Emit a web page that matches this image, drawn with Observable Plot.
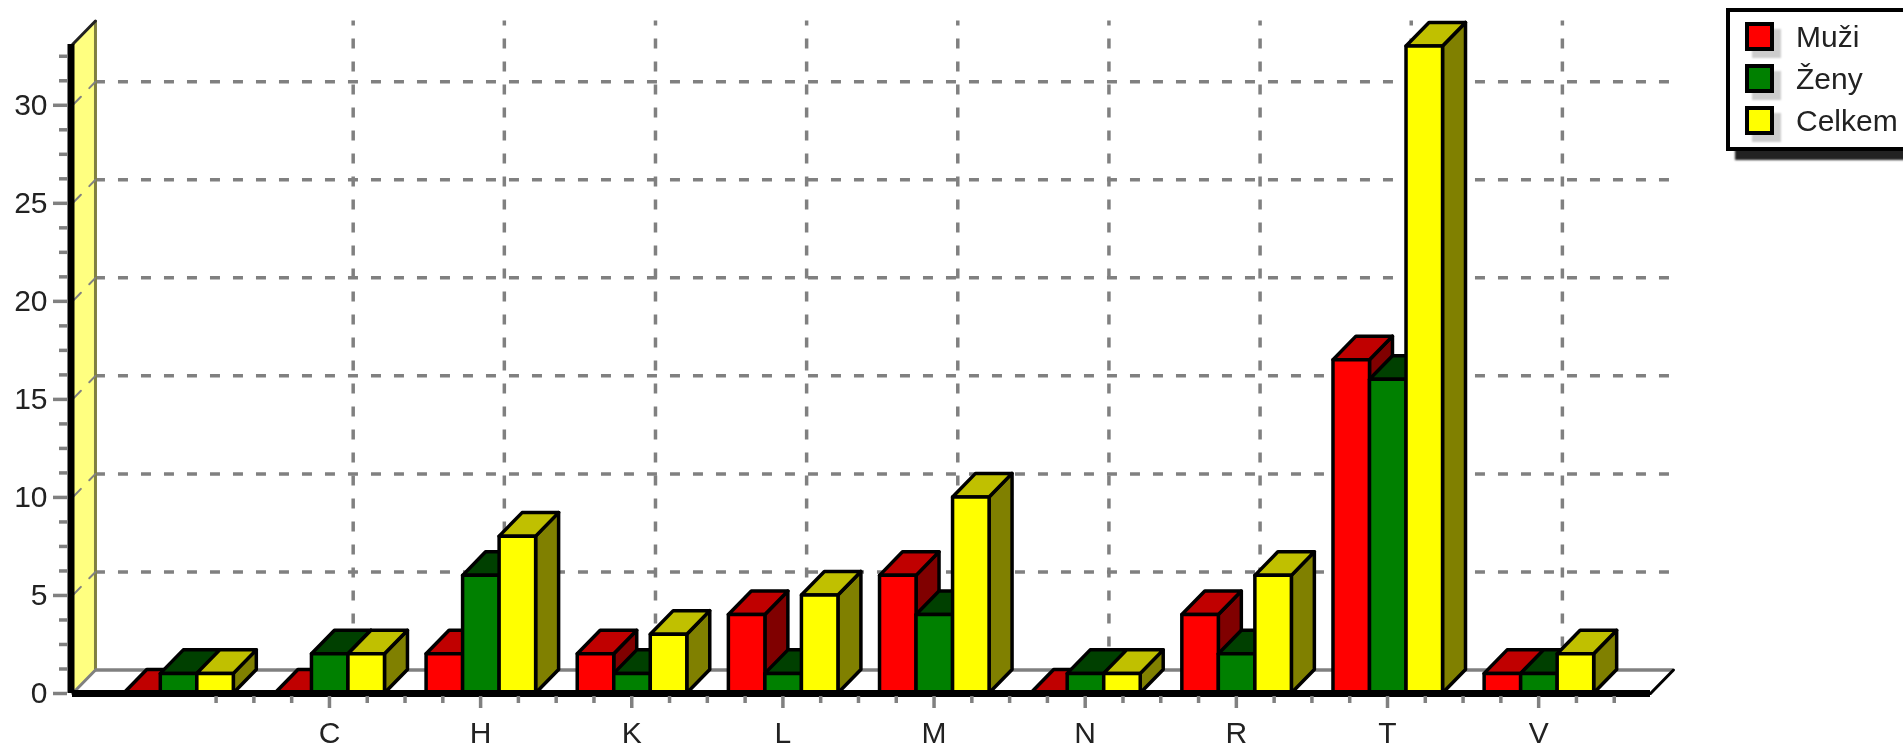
<!DOCTYPE html>
<html><head><meta charset="utf-8">
<script src="https://cdn.jsdelivr.net/npm/d3@7"></script>
<script src="https://cdn.jsdelivr.net/npm/@observablehq/plot@0.6"></script>
<style>
html,body{margin:0;padding:0;background:#fff;overflow:hidden;width:1903px;height:746px}
#chart{position:absolute;left:0;top:0;filter:blur(0.5px)}
#legend{position:absolute;left:1726px;top:8px;width:220px;height:135px;background:#fff;border:4px solid #000;box-shadow:9px 9px 2px #222;font:30px "Liberation Sans",Arial,sans-serif;color:#222;filter:blur(0.5px)}
.row{position:absolute;left:66px;line-height:34px;white-space:nowrap}
.sw{position:absolute;left:15px;width:21px;height:21px;border:4px solid #000;box-shadow:7px 7px 2px #ccc}
</style></head><body>
<div id="chart"></div><div id="legend"></div>
<script>
const categories = ["", "C", "H", "K", "L", "M", "N", "R", "T", "V"];
const muzi   = [0, 0, 2, 2, 4, 6, 0, 4, 17, 1];
const zeny   = [1, 2, 6, 1, 1, 4, 1, 2, 16, 1];
const celkem = [1, 2, 8, 3, 5, 10, 1, 6, 33, 2];
const seriesNames = ["Muži", "Ženy", "Celkem"];
const frontColors = ["#ff0000", "#008000", "#ffff00"];
const topColors   = ["#c00000", "#004000", "#c0c000"];
const sideColors  = ["#800000", "#004000", "#808000"];
const yMajor = [0, 5, 10, 15, 20, 25, 30];
const yGrid  = [5, 10, 15, 20, 25, 30];
const yMinor = d3.range(1, 27).map(i => i * 1.25).filter(v => v % 5 !== 0);
const xMajor = [1, 2, 3, 4, 5, 6, 7, 8, 9];
const xMinor = d3.range(1, 39).map(i => i * 0.25).filter(v => v % 1 !== 0);

const x0 = -0.7, x1 = 9.74, yTop = 33.1;
const depthX = 0.152, depthY = 1.2, barW = 0.2416;
const gray = "#808080", dash = "10,13";
const allSeries = [muzi, zeny, celkem];

const bars = [];
allSeries.forEach((vals, k) => {
  const rows = vals.map((v, i) => ({
    i, v,
    a: i + (k - 1.5) * barW + 0.005,
    b: i + (k - 0.5) * barW + 0.005
  }));
  const side = rows.flatMap(r => [
    {z: r.i, x: r.b, y1: 0, y2: r.v},
    {z: r.i, x: r.b + depthX, y1: depthY, y2: r.v + depthY}
  ]);
  const top = rows.flatMap(r => [
    {z: r.i, y: r.v, x1: r.a, x2: r.b},
    {z: r.i, y: r.v + depthY, x1: r.a + depthX, x2: r.b + depthX}
  ]);
  const edge = {stroke: "#000", strokeWidth: 3.5, strokeLinejoin: "round"};
  bars.push(
    Plot.area(side, {x1: "x", y1: "y1", y2: "y2", z: "z", fill: sideColors[k], ...edge}),
    Plot.area(top, {x1: "x1", x2: "x2", y1: "y", z: "z", fill: topColors[k], ...edge}),
    Plot.rect(rows, {x1: "a", x2: "b", y1: 0, y2: "v", fill: frontColors[k], ...edge})
  );
});

const chart = Plot.plot({
  width: 1903, height: 746,
  marginLeft: 67, marginBottom: 50, marginTop: 0, marginRight: 0,
  x: {type: "linear", domain: [x0, x1], range: [72, 1650]},
  y: {type: "linear", domain: [0, yTop], range: [693, 44]},
  style: {fontFamily: '"Liberation Sans",Arial,sans-serif', background: "transparent", overflow: "visible"},
  marks: [
    // floor
    Plot.area([{y: 0, a: x0, b: x1}, {y: depthY, a: x0 + depthX, b: x1 + depthX}],
      {x1: "a", x2: "b", y1: "y", fill: "#fff"}),
    // vertical dashed grid
    Plot.ruleX(xMajor, {x: d => d + depthX + 0.005, y1: depthY, y2: yTop + depthY, stroke: gray, strokeWidth: 3.5, strokeDasharray: dash}),
    // horizontal dashed grid
    Plot.ruleY(yGrid, {y: d => d + depthY, x1: x0 + depthX, x2: x1 + depthX, stroke: gray, strokeWidth: 3.5, strokeDasharray: dash}),
    // side wall
    Plot.area([{x: x0, y1: 0, y2: yTop}, {x: x0 + depthX, y1: depthY, y2: yTop + depthY}],
      {x1: "x", y1: "y1", y2: "y2", fill: "#ffff80"}),
    Plot.ruleX([x0 + depthX], {y1: depthY, y2: yTop + depthY, stroke: "#808040", strokeWidth: 3}),
    Plot.line([{x: x0, y: yTop}, {x: x0 + depthX, y: yTop + depthY}], {x: "x", y: "y", stroke: "#222", strokeWidth: 3}),
    Plot.line(yGrid.flatMap(v => [{z: v, x: x0, y: v}, {z: v, x: x0 + depthX, y: v + depthY}]),
      {x: "x", y: "y", z: "z", stroke: gray, strokeWidth: 2, strokeDasharray: "12,12"}),
    // floor edges
    Plot.ruleY([depthY], {x1: x0 + depthX, x2: x1 + depthX, stroke: gray, strokeWidth: 3.5}),
    Plot.line([{x: x0, y: 0}, {x: x0 + depthX, y: depthY}], {x: "x", y: "y", stroke: gray, strokeWidth: 3}),
    Plot.line([{x: x1, y: 0}, {x: x1 + depthX, y: depthY}], {x: "x", y: "y", stroke: "#000", strokeWidth: 3}),
    // bars
    ...bars,
    // black axis lines
    Plot.ruleY([0], {x1: x0, x2: x1, stroke: "#000", strokeWidth: 7}),
    Plot.ruleX([x0], {y1: 0, y2: yTop, stroke: "#000", strokeWidth: 7, dx: -1.5}),
    // axes
    Plot.axisY(yMinor, {anchor: "left", tickSize: 8, stroke: gray, strokeWidth: 3.5, fill: "none", label: null}),
    Plot.axisY(yMajor, {anchor: "left", tickSize: 14, tickPadding: 6, stroke: gray, strokeWidth: 3.5, fill: "#222", fontSize: 30, label: null}),
    Plot.axisX(xMinor, {anchor: "bottom", tickSize: 7, stroke: gray, strokeWidth: 3.5, fill: "none", label: null}),
    Plot.axisX(xMajor, {anchor: "bottom", tickSize: 12, tickPadding: 13, stroke: gray, strokeWidth: 3.5, fill: "#222", fontSize: 30, label: null,
      tickFormat: i => categories[i]})
  ]
});
document.getElementById("chart").append(chart);

const legend = document.getElementById("legend");
seriesNames.forEach((name, k) => {
  const top = 10 + k * 42;
  const sw = document.createElement("div");
  sw.className = "sw"; sw.style.top = top + "px"; sw.style.background = frontColors[k];
  const t = document.createElement("div");
  t.className = "row"; t.style.top = (top - 2) + "px"; t.textContent = name;
  legend.append(sw, t);
});
</script>
</body></html>
